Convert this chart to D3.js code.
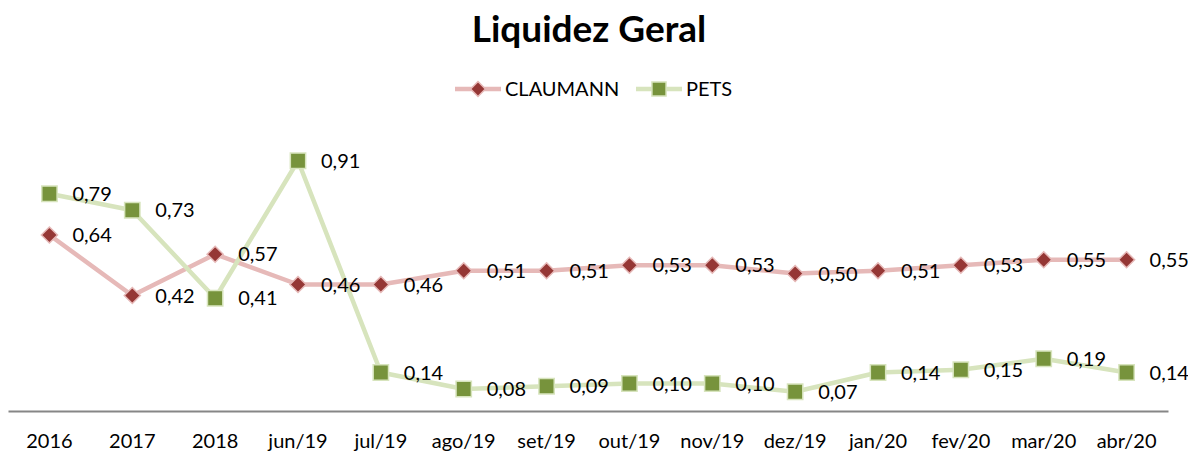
<!DOCTYPE html>
<html><head><meta charset="utf-8">
<script src="https://cdn.jsdelivr.net/npm/d3@7/dist/d3.min.js"></script>
<style>body{margin:0;background:#fff;} svg{display:block;}</style>
</head><body>
<svg id="c" width="1188" height="452"></svg>
<script>
const categories = ["2016","2017","2018","jun/19","jul/19","ago/19","set/19","out/19","nov/19","dez/19","jan/20","fev/20","mar/20","abr/20"];
const claumann = [0.64,0.42,0.57,0.46,0.46,0.51,0.51,0.53,0.53,0.50,0.51,0.53,0.55,0.55];
const pets = [0.79,0.73,0.41,0.91,0.14,0.08,0.09,0.10,0.10,0.07,0.14,0.15,0.19,0.14];
const seriesNames = ["CLAUMANN","PETS"];

const svg = d3.select("#c");
const font = "Lato, sans-serif";
const x = d3.scaleBand().domain(categories).range([8,1168]);
const y = d3.scaleLinear().domain([0,1]).range([411,136]);
const fmt = v => d3.format(".2f")(v).replace(".", ",");

svg.append("text").attr("x",589).attr("y",42).attr("text-anchor","middle")
  .attr("font-family",font).attr("font-weight","bold").attr("font-size",37).text("Liquidez Geral");

// axis
const ax = svg.append("g").attr("transform","translate(0,411)").call(d3.axisBottom(x).tickSize(0).tickPadding(23));
ax.select(".domain").attr("stroke","#868686").attr("stroke-width",2);
ax.selectAll("text").attr("font-family",font).attr("font-size",20).attr("fill","#000");

const cx = d => x(d) + x.bandwidth()/2;
const diamond = {draw(ctx, size){const r=Math.sqrt(size)/2; ctx.moveTo(0,-r); ctx.lineTo(r,0); ctx.lineTo(0,r); ctx.lineTo(-r,0); ctx.closePath();}};
const series = [
  {name:seriesNames[0], vals:claumann, line:"#E6B9B8", fill:"#953735", stroke:"#E6B9B8", sym:diamond, size:260},
  {name:seriesNames[1], vals:pets, line:"#D7E4BD", fill:"#77933C", stroke:"#D7E4BD", sym:d3.symbolSquare, size:235}
];
const line = d3.line().x((v,i)=>cx(categories[i])).y(v=>y(v));
series.forEach(s=>{
  svg.append("path").attr("d",line(s.vals)).attr("fill","none").attr("stroke",s.line).attr("stroke-width",4.5).attr("stroke-linejoin","round");
});
series.forEach(s=>{
  svg.selectAll(null).data(s.vals).join("path")
    .attr("d", d3.symbol().type(s.sym).size(s.size))
    .attr("transform",(v,i)=>`translate(${cx(categories[i])},${y(v)})`)
    .attr("fill",s.fill).attr("stroke",s.stroke).attr("stroke-width",1.5);
  svg.selectAll(null).data(s.vals).join("text")
    .attr("x",(v,i)=>cx(categories[i])+23).attr("y",v=>y(v)+7)
    .attr("font-family",font).attr("font-size",20).attr("fill","#000").text(fmt);
});

// legend
const leg = [{x:455},{x:636}];
series.forEach((s,i)=>{
  const g = svg.append("g").attr("transform",`translate(${leg[i].x},89)`);
  g.append("line").attr("x1",0).attr("x2",46).attr("stroke",s.line).attr("stroke-width",4.5);
  g.append("path").attr("d",d3.symbol().type(s.sym).size(s.size*0.85)).attr("transform","translate(23,0)")
    .attr("fill",s.fill).attr("stroke",s.stroke).attr("stroke-width",1.5);
  g.append("text").attr("x",50).attr("y",7).attr("font-family",font).attr("font-size",20).text(s.name);
});
</script>
</body></html>
